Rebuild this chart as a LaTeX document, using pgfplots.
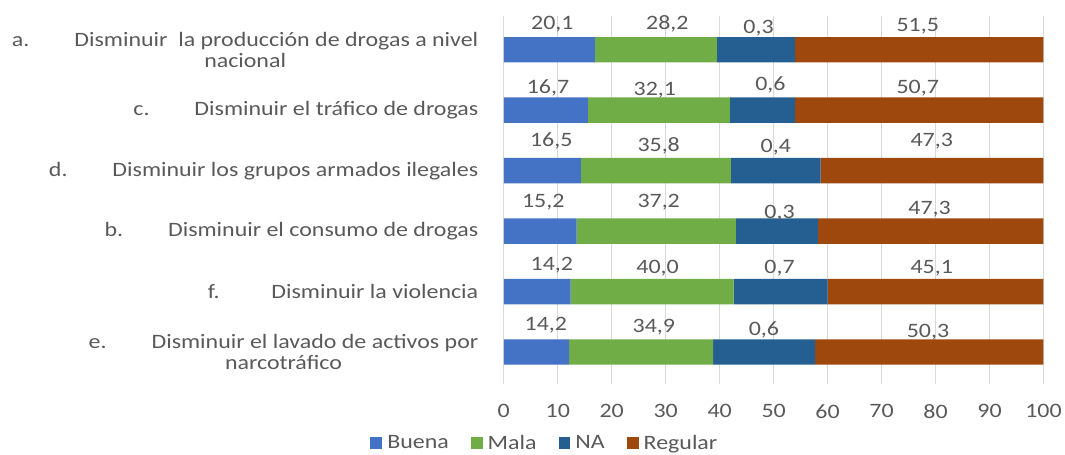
\documentclass[border=0pt]{standalone}
\usepackage{pgfplots}
\pgfplotsset{compat=1.18}
\usepackage{pgfplotstable}
\usepackage{fontspec}
\setmainfont{Carlito}[FakeStretch=1.17]

\definecolor{cBuena}{HTML}{4472C4}
\definecolor{cMala}{HTML}{70AD47}
\definecolor{cNA}{HTML}{255E91}
\definecolor{cRegular}{HTML}{9E480E}
\definecolor{txt}{HTML}{595959}
\definecolor{grd}{HTML}{D9D9D9}

% segment widths as drawn in the chart
\pgfplotstableread{
y  bw   mw   nw   rw
5  16.9 22.6 14.5 46.0
4  15.6 26.3 12.1 46.0
3  14.3 27.8 16.6 41.3
2  13.5 29.5 15.2 41.8
1  12.4 30.2 17.4 40.0
0  12.1 26.7 18.9 42.3
}\data

% printed values and where they sit
\pgfplotstableread{
lx   ly    lab
9.0  5.429 20,1
30.3 5.429 28,2
47.2 5.363 0,3
76.7 5.396 51,5
8.2  4.363 16,7
28.0 4.330 32,1
49.4 4.413 0,6
76.7 4.363 50,7
8.8  3.495 16,5
28.7 3.413 35,8
50.4 3.396 0,4
79.3 3.495 47,3
7.3  2.479 15,2
28.7 2.479 37,2
51.1 2.297 0,3
78.9 2.363 47,3
8.9  1.429 14,2
28.5 1.380 40,0
51.1 1.380 0,7
79.3 1.380 45,1
7.8  0.446 14,2
27.8 0.413 34,9
48.2 0.363 0,6
78.6 0.330 50,3
}\labels

\newcommand{\fnt}{\fontsize{20.5}{21.5}\selectfont}
\pgfplotsset{frame/.style={x=5.41pt, y=60.6pt,
  xmin=0, xmax=100, ymin=-0.53, ymax=5.56}}

\begin{document}
\begin{tikzpicture}
\begin{axis}[
  frame,
  xbar stacked,
  bar width=25.5pt,
  xtick={0,10,...,100},
  ytick={0,1,2,3,4,5},
  yticklabels={
    {e.\hspace{45pt}Disminuir el lavado de activos por\\narcotráfico},
    {f.\hspace{52pt}Disminuir la violencia},
    {b.\hspace{45pt}Disminuir el consumo de drogas},
    {d.\hspace{45pt}Disminuir los grupos armados ilegales},
    {c.\hspace{45pt}Disminuir el tráfico de drogas},
    {a.\hspace{45pt}Disminuir~ la producción de drogas a nivel\\nacional}},
  /pgf/number format/assume math mode=true,
  every tick label/.append style={font=\fnt, text=txt},
  yticklabel style={align=center, xshift=-22pt},
  xticklabel style={yshift=-17pt},
  major tick length=0pt,
  axis line style={draw=none},
  xmajorgrids, grid style={grd, line width=0.8pt},
  legend style={at={(0.076,-0.16)}, anchor=center, draw=none, font=\fnt,
    text=txt, legend columns=4,
    /tikz/every odd column/.append style={column sep=3pt},
    /tikz/every even column/.append style={column sep=20pt}},
  legend image code/.code={\fill[#1] (0pt,-6pt) rectangle (12pt,6pt);},
]
\addplot[fill=cBuena, draw=none] table[x=bw, y=y]{\data};
\addplot[fill=cMala, draw=none] table[x=mw, y=y]{\data};
\addplot[fill=cNA, draw=none] table[x=nw, y=y]{\data};
\addplot[fill=cRegular, draw=none] table[x=rw, y=y]{\data};
\legend{Buena, Mala, NA, Regular}
\end{axis}
\begin{axis}[frame, hide axis]
\addplot[draw=none, mark=none, point meta=explicit symbolic,
  nodes near coords,
  every node near coord/.append style={font=\fnt, text=txt, anchor=center}]
  table[x=lx, y=ly, meta=lab]{\labels};
\end{axis}
\path ([shift={(-505pt,-67pt)}]current axis.south west) rectangle ++(1065pt,452pt);
\end{tikzpicture}
\end{document}
